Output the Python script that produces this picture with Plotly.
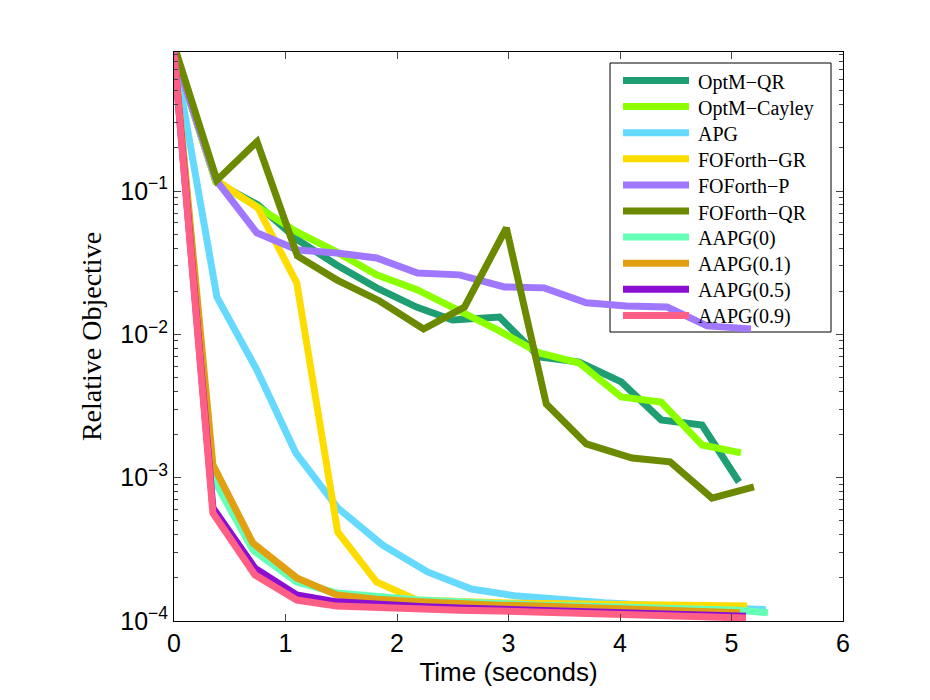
import plotly.graph_objects as go

# time (s) and relative objective for each solver
t_optm_qr = [0, 0.376, 0.752, 1.110, 1.459, 1.817, 2.175, 2.498, 2.919, 3.277, 3.635, 4.011, 4.369, 4.736, 5.067]
y_optm_qr = [0.93, 0.1157, 0.0800, 0.0456, 0.0305, 0.0211, 0.0155, 0.0126, 0.0132, 0.00695, 0.00641, 0.00466, 0.00253, 0.00233, 0.000933]

t_optm_cay = [0, 0.376, 0.752, 1.101, 1.441, 1.817, 2.184, 2.543, 2.901, 3.277, 3.635, 4.011, 4.369, 4.736, 5.085]
y_optm_cay = [0.93, 0.1157, 0.0774, 0.0519, 0.0382, 0.0260, 0.0204, 0.0148, 0.01074, 0.00741, 0.00631, 0.00366, 0.00337, 0.00169, 0.00149]

t_apg = [0, 0.385, 0.743, 1.092, 1.468, 1.871, 2.274, 2.668, 3.053, 3.456, 3.859, 4.261, 4.664, 5.067, 5.309]
y_apg = [0.93, 0.0182, 0.00565, 0.00149, 0.000615, 0.000339, 0.000220, 0.000167, 0.000150, 0.000140, 0.000134, 0.000129, 0.000125, 0.000123, 0.000120]

t_fo_gr = [0, 0.376, 0.752, 1.101, 1.468, 1.817, 2.175, 2.543, 2.919, 3.277, 3.635, 4.011, 4.369, 4.736, 5.139]
y_fo_gr = [0.93, 0.1195, 0.0762, 0.0229, 0.000418, 0.000187, 0.000140, 0.000136, 0.000134, 0.0001325, 0.0001314, 0.0001304, 0.000129, 0.0001283, 0.000127]

t_fo_p = [0, 0.376, 0.743, 1.110, 1.459, 1.817, 2.184, 2.560, 2.963, 3.321, 3.697, 4.056, 4.423, 4.781, 5.175]
y_fo_p = [0.93, 0.1195, 0.0511, 0.0388, 0.0370, 0.0341, 0.0268, 0.0260, 0.0214, 0.0211, 0.0166, 0.0158, 0.0155, 0.01146, 0.01092]

t_fo_qr = [0.02, 0.385, 0.745, 1.107, 1.459, 1.844, 2.238, 2.605, 2.981, 3.339, 3.697, 4.109, 4.449, 4.825, 5.201]
y_fo_qr = [0.93, 0.119, 0.221, 0.0352, 0.024, 0.0171, 0.0109, 0.0155, 0.0552, 0.00327, 0.00172, 0.00137, 0.00129, 0.000721, 0.000861]

t_aapg0 = [0, 0.349, 0.707, 1.101, 1.459, 1.844, 2.202, 2.560, 2.919, 3.277, 3.635, 3.993, 4.351, 4.709, 5.067, 5.327]
y_aapg0 = [0.93, 0.000996, 0.000313, 0.000187, 0.000157, 0.000147, 0.000140, 0.000136, 0.000131, 0.000129, 0.000127, 0.000125, 0.000123, 0.000121, 0.000119, 0.000114]

t_aapg01 = [0, 0.349, 0.707, 1.101, 1.459, 1.817, 2.202, 2.560, 2.919, 3.277, 3.635, 3.993, 4.351, 4.709, 5.076]
y_aapg01 = [0.93, 0.00123, 0.000350, 0.000200, 0.000152, 0.000142, 0.000136, 0.0001314, 0.000129, 0.000127, 0.000125, 0.000123, 0.000121, 0.000119, 0.000114]

t_aapg05 = [0, 0.349, 0.725, 1.101, 1.459, 1.844, 2.202, 2.560, 2.919, 3.277, 3.635, 3.993, 4.351, 4.709, 5.130]
y_aapg05 = [0.93, 0.000615, 0.000234, 0.000152, 0.000136, 0.000129, 0.000126, 0.000123, 0.000121, 0.000119, 0.0001175, 0.0001155, 0.000114, 0.000112, 0.000108]

t_aapg09 = [0, 0.349, 0.725, 1.101, 1.459, 1.844, 2.202, 2.560, 2.919, 3.277, 3.635, 3.993, 4.351, 4.709, 5.130]
y_aapg09 = [0.93, 0.000567, 0.000210, 0.000140, 0.000127, 0.000123, 0.000121, 0.000119, 0.0001175, 0.0001155, 0.000114, 0.000112, 0.000110, 0.000108, 0.000105]

series = [
    ("OptM\u2212QR", t_optm_qr, y_optm_qr, "#1f9e74"),
    ("OptM\u2212Cayley", t_optm_cay, y_optm_cay, "#8cff00"),
    ("APG", t_apg, y_apg, "#66d9ff"),
    ("FOForth\u2212GR", t_fo_gr, y_fo_gr, "#ffdc00"),
    ("FOForth\u2212P", t_fo_p, y_fo_p, "#a078ff"),
    ("FOForth\u2212QR", t_fo_qr, y_fo_qr, "#6b8a00"),
    ("AAPG(0)", t_aapg0, y_aapg0, "#66ffb8"),
    ("AAPG(0.1)", t_aapg01, y_aapg01, "#e0a012"),
    ("AAPG(0.5)", t_aapg05, y_aapg05, "#8a0fd2"),
    ("AAPG(0.9)", t_aapg09, y_aapg09, "#ff5f85"),
]

y_ticks = [1e-4, 1e-3, 1e-2, 1e-1]
y_ticktext = ["10<sup>\u22124</sup>", "10<sup>\u22123</sup>", "10<sup>\u22122</sup>", "10<sup>\u22121</sup>"]
x_ticks = [0, 1, 2, 3, 4, 5, 6]

serif = "Liberation Serif, Times New Roman, serif"

fig = go.Figure()
for name, t, y, c in series:
    fig.add_trace(go.Scatter(x=t, y=y, mode="lines", name=name, showlegend=False,
                             line=dict(color=c, width=7)))

# MATLAB-style legend box: long line samples, serif labels (paper coords)
plot_w, plot_h = 669.0, 569.0
box_l, box_r, box_t, box_b = 436 / plot_w, 657 / plot_w, 1 - 11 / plot_h, 1 - 280 / plot_h
fig.add_shape(type="rect", xref="paper", yref="paper", x0=box_l, x1=box_r, y0=box_b, y1=box_t,
              line=dict(color="black", width=1), fillcolor="rgba(255,255,255,0)", layer="below")
for i, (name, t, y, c) in enumerate(series):
    yc = 1 - (28.5 + 26.1 * i) / plot_h
    fig.add_shape(type="line", xref="paper", yref="paper",
                  x0=449 / plot_w, x1=515 / plot_w, y0=yc, y1=yc,
                  line=dict(color=c, width=7), layer="above")
    fig.add_annotation(xref="paper", yref="paper", x=522 / plot_w, y=yc - 1.5 / plot_h,
                       text=name, showarrow=False, xanchor="left", yanchor="middle",
                       font=dict(family=serif, size=20, color="black"))

# page body adds an 8px offset, so margins are shifted by that much
fig.update_layout(
    width=930, height=700,
    paper_bgcolor="white", plot_bgcolor="white",
    margin=dict(l=166, r=95, t=44, b=87),
    font=dict(family="Liberation Sans, Arial, sans-serif", size=25, color="black"),
    showlegend=False,
)
fig.update_xaxes(
    range=[0, 6], tickvals=x_ticks, ticks="inside", ticklen=7,
    showline=True, linecolor="black", linewidth=1, mirror="allticks",
    showgrid=False, zeroline=False,
    title=dict(text="Time (seconds)", standoff=4, font=dict(size=26)),
)
fig.update_yaxes(
    type="log", range=[-4, -0.03], tickvals=y_ticks, ticktext=y_ticktext,
    ticks="inside", ticklen=7,
    minor=dict(ticks="inside", ticklen=4, dtick="D1", showgrid=False),
    showline=True, linecolor="black", linewidth=1, mirror="allticks",
    showgrid=False, zeroline=False,
    title=dict(text="Relative Objective", standoff=10,
               font=dict(family=serif, size=28)),
)

fig.write_html("out.html")
